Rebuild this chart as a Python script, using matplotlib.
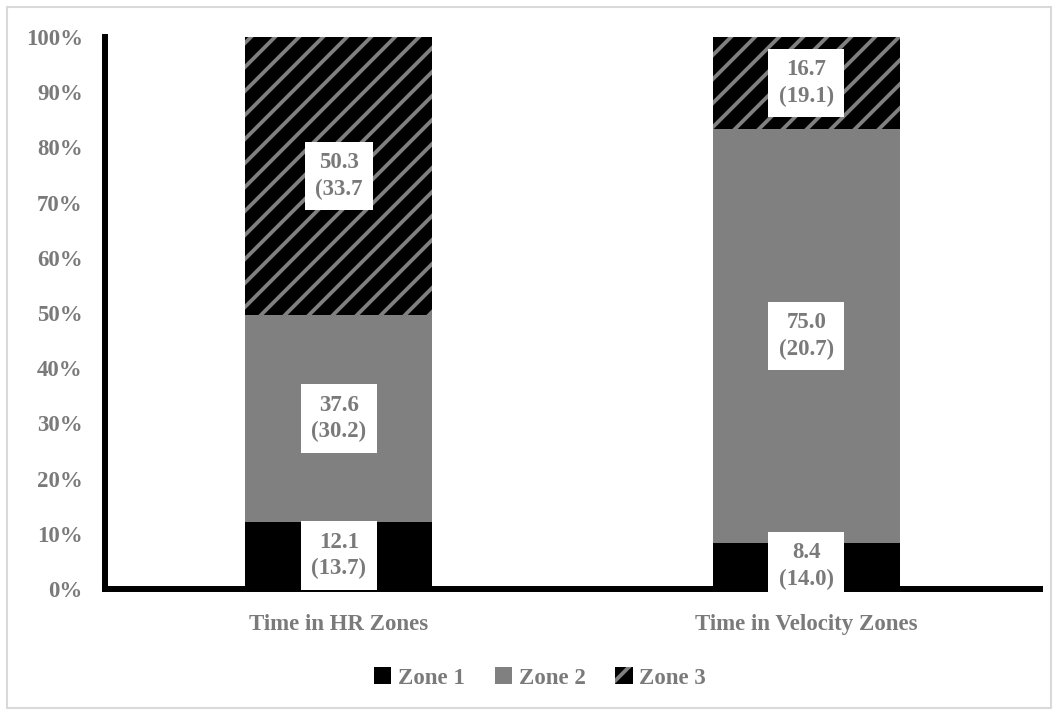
import numpy as np
import matplotlib.pyplot as plt
from matplotlib.patches import Rectangle

# data (mean % of time, SD in brackets)
categories = ["Time in HR Zones", "Time in Velocity Zones"]
zones = ["Zone 1", "Zone 2", "Zone 3"]
zone1 = [12.1, 8.4]
zone2 = [37.6, 75.0]
zone3 = [50.3, 16.7]
zone1_sd = ["(13.7)", "(14.0)"]
zone2_sd = ["(30.2)", "(20.7)"]
zone3_sd = ["(33.7", "(19.1)"]
y_ticks = [0, 10, 20, 30, 40, 50, 60, 70, 80, 90, 100]

# saved at 144 dpi so the hatch spacing comes out wider; sizes scaled by s
DPI = 144
s = 100 / DPI

plt.rcParams['font.family'] = ['Liberation Serif', 'DejaVu Serif']
plt.rcParams['font.weight'] = 'bold'
plt.rcParams['hatch.linewidth'] = 1.9
plt.rcParams['hatch.color'] = '#808080'

grey = '#7a7a7a'
fsize = 16.5 * s

fig = plt.figure(figsize=(1059 / DPI, 715 / DPI), dpi=DPI)
ax = fig.add_axes([0.0992, 0.1762, 0.8828, 0.7721])

# outer light border like the office chart frame
fig.patches.append(Rectangle((0.0066, 0.01), 0.9858, 0.980, transform=fig.transFigure,
                             fill=False, edgecolor='#d9d9d9', linewidth=1.5 * s))

x = np.arange(len(categories))
totals = np.array(zone1) + np.array(zone2) + np.array(zone3)
z1 = np.array(zone1) / totals * 100
z2 = np.array(zone2) / totals * 100
z3 = np.array(zone3) / totals * 100

width = 0.40
b1 = ax.bar(x, z1, width, color='black', linewidth=0, label=zones[0])
b2 = ax.bar(x, z2, width, bottom=z1, color='#808080', linewidth=0, label=zones[1])
b3 = ax.bar(x, z3, width, bottom=z1 + z2, color='black', edgecolor='#808080',
            hatch='//', linewidth=0, label=zones[2])

# value labels in white boxes
bbox = dict(boxstyle='square,pad=0.45', facecolor='white', edgecolor='none')
for i in range(len(categories)):
    ax.text(x[i], z1[i] / 2, f"{zone1[i]:.1f}\n{zone1_sd[i]}", ha='center', va='center',
            color=grey, fontsize=fsize, fontweight='bold', bbox=bbox, linespacing=1.35)
    ax.text(x[i], z1[i] + z2[i] / 2, f"{zone2[i]:.1f}\n{zone2_sd[i]}", ha='center', va='center',
            color=grey, fontsize=fsize, fontweight='bold', bbox=bbox, linespacing=1.35)
    ax.text(x[i], z1[i] + z2[i] + z3[i] / 2, f"{zone3[i]:.1f}\n{zone3_sd[i]}", ha='center',
            va='center', color=grey, fontsize=fsize, fontweight='bold', bbox=bbox, linespacing=1.35)

ax.set_xlim(-0.5, 1.5)
ax.set_ylim(0, 100)
ax.set_yticks(y_ticks)
ax.set_yticklabels([f"{t}%" for t in y_ticks])
ax.set_xticks(x)
ax.set_xticklabels(categories)
ax.tick_params(axis='both', length=0, labelcolor=grey, labelsize=fsize)
ax.tick_params(axis='y', pad=16 * s)
ax.tick_params(axis='x', pad=18 * s)

for side in ['top', 'right']:
    ax.spines[side].set_visible(False)
for side in ['left', 'bottom']:
    ax.spines[side].set_linewidth(4.3 * s)
    ax.spines[side].set_color('black')
    ax.spines[side].set_capstyle('projecting')

fig.legend(handles=[b1, b2, b3], labels=zones, loc='center', bbox_to_anchor=(0.51, 0.052),
           ncol=3, frameon=False, fontsize=fsize, labelcolor=grey, handlelength=0.75,
           handleheight=0.75, handletextpad=0.3, columnspacing=1.3)

fig.savefig("out.png", dpi=DPI)
